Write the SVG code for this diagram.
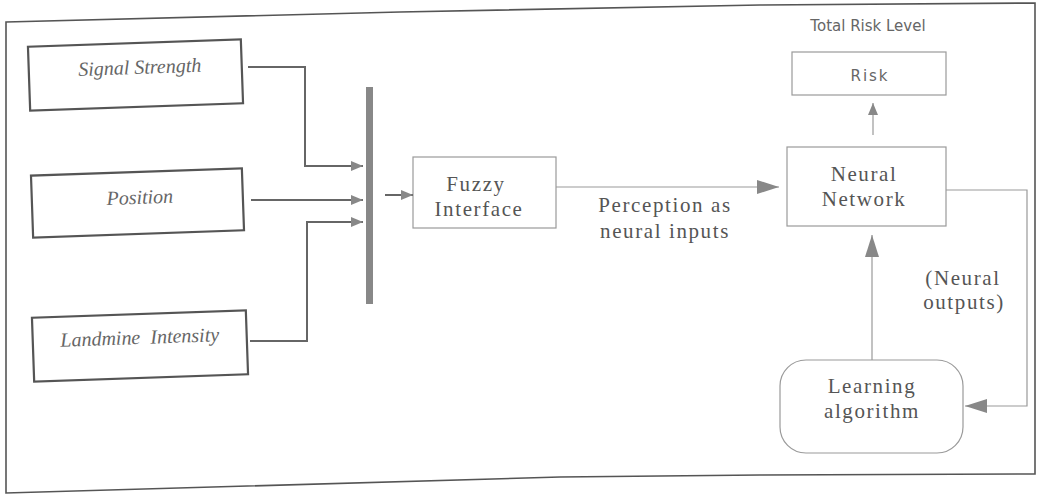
<svg xmlns="http://www.w3.org/2000/svg" width="1037" height="495" viewBox="0 0 1037 495">
<defs>
<style>
.frame{fill:none;stroke:#555;stroke-width:1.6}
.inbox{fill:#fff;stroke:#555;stroke-width:2.2}
.lbox{fill:#fff;stroke:#9a9a9a;stroke-width:1.2}
.it{font-family:"Liberation Serif",serif;font-style:italic;font-size:20px;fill:#666;text-anchor:middle;white-space:pre}
.sr{font-family:"Liberation Serif",serif;font-size:21px;fill:#555;text-anchor:middle;letter-spacing:1.6px}
.ss{font-family:"DejaVu Sans","Liberation Sans",sans-serif;font-size:15px;fill:#666;text-anchor:middle}
.ln{fill:none;stroke:#666;stroke-width:2}
.ln2{fill:none;stroke:#999;stroke-width:1.2}
</style>
<marker id="sm" markerWidth="12" markerHeight="10" refX="12" refY="5" orient="auto" markerUnits="userSpaceOnUse"><path d="M0,0 L12,5 L0,10 z" fill="#888"/></marker>
<marker id="lg" markerWidth="22" markerHeight="14" refX="22" refY="7" orient="auto" markerUnits="userSpaceOnUse"><path d="M0,0 L22,7 L0,14 z" fill="#888"/></marker>
</defs>
<rect width="1037" height="495" fill="#fff"/>
<polygon class="frame" points="6,22 400,12 760,5 1035,3 1035,474 760,475 560,477 6,493"/>
<g id="signal" transform="rotate(-2 136 75)">
<rect class="inbox" x="29" y="43" width="213" height="64"/>
<text class="it" x="140" y="74">Signal Strength</text>
</g>
<g id="position" transform="rotate(-2 137 203)">
<rect class="inbox" x="32" y="172" width="211" height="62"/>
<text class="it" x="140" y="204">Position</text>
</g>
<g id="landmine" transform="rotate(-2 140 346)">
<rect class="inbox" x="33" y="314" width="214" height="64"/>
<text class="it" x="140" y="344">Landmine  Intensity</text>
</g>
<g id="bar"><rect x="366" y="87" width="7" height="217" fill="#888"/></g>
<g id="fuzzy">
<rect class="lbox" x="413" y="157" width="143" height="71"/>
<text class="sr" x="476" y="191">Fuzzy</text>
<text class="sr" x="479" y="216">Interface</text>
</g>
<g id="neural">
<rect class="lbox" x="787" y="147" width="159" height="79"/>
<text class="sr" x="864" y="181">Neural</text>
<text class="sr" x="864" y="206">Network</text>
</g>
<g id="risk">
<text class="ss" x="868" y="31">Total Risk Level</text>
<rect class="lbox" x="792" y="52" width="154" height="43"/>
<text class="ss" x="870" y="81" letter-spacing="2">Risk</text>
</g>
<g id="learning">
<rect class="lbox" x="780" y="360" width="183" height="93" rx="26" ry="26"/>
<text class="sr" x="872" y="393">Learning</text>
<text class="sr" x="872" y="418">algorithm</text>
</g>
<g id="labels">
<text class="sr" x="665" y="212">Perception as</text>
<text class="sr" x="665" y="238">neural inputs</text>
<text class="sr" x="963" y="285">(Neural</text>
<text class="sr" x="964" y="309">outputs)</text>
</g>
<g id="connectors">
<path class="ln" d="M248,67 H305 V166 H363" marker-end="url(#sm)"/>
<path class="ln" d="M251,200 H363" marker-end="url(#sm)"/>
<path class="ln" d="M250,341 H307 V222 H363" marker-end="url(#sm)"/>
<path class="ln" d="M385,195 H413" marker-end="url(#sm)"/>
<path class="ln2" d="M556,187 H779" marker-end="url(#lg)"/>
<path class="ln2" d="M873,135 V103" marker-end="url(#sm)"/>
<path class="ln2" d="M946,190 H1027 V406 H965" marker-end="url(#lg)"/>
<path class="ln2" d="M872,360 V235" marker-end="url(#lg)"/>
</g>
</svg>
